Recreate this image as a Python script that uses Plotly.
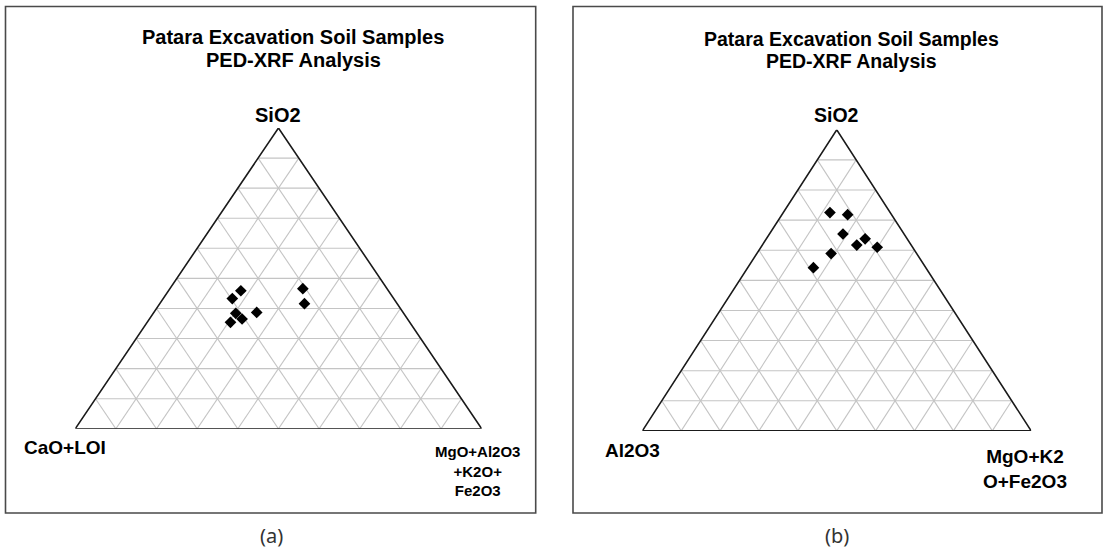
import plotly.graph_objects as go

W, H = 1103, 550

# ---- sample compositions (fractions of the three end-members) ----
# Panel (a): SiO2 / CaO+LOI / MgO+Al2O3+K2O+Fe2O3
a_sio2 = [0.459, 0.433, 0.384, 0.365, 0.354, 0.387, 0.466, 0.416]
a_caoloi = [0.363, 0.397, 0.413, 0.407, 0.441, 0.360, 0.207, 0.228]
a_mafic = [0.178, 0.170, 0.203, 0.228, 0.205, 0.253, 0.327, 0.356]

# Panel (b): SiO2 / Al2O3 / MgO+K2O+Fe2O3
b_sio2 = [0.725, 0.718, 0.654, 0.638, 0.617, 0.610, 0.589, 0.542]
b_al2o3 = [0.155, 0.113, 0.157, 0.108, 0.140, 0.091, 0.220, 0.289]
b_mafic = [0.120, 0.169, 0.189, 0.254, 0.243, 0.299, 0.191, 0.169]

grid_steps = [0.1, 0.2, 0.3, 0.4, 0.5, 0.6, 0.7, 0.8, 0.9]

title_lines = ["Patara Excavation Soil Samples", "PED-XRF Analysis"]
a_labels = {"top": "SiO2", "left": "CaO+LOI", "right": "MgO+Al2O3<br>+K2O+<br>Fe2O3"}
b_labels = {"top": "SiO2", "left": "Al2O3", "right": "MgO+K2<br>O+Fe2O3"}

FONT = "Liberation Sans, Arial, sans-serif"


def tern_xy(top, left, right):
    """Ternary composition -> unit-triangle cartesian coordinates."""
    xs, ys = [], []
    for t, l, r in zip(top, left, right):
        s = t + l + r
        t, r = t / s, r / s
        xs.append(r + t / 2)
        ys.append(t)
    return xs, ys


def grid_xy(steps):
    """Iso-lines for each of the three components."""
    xs, ys = [], []
    for v in steps:
        segs = [
            ((v, 1 - v, 0), (v, 0, 1 - v)),  # top = v
            ((0, 1 - v, v), (1 - v, 0, v)),  # right = v
            ((0, v, 1 - v), (1 - v, v, 0)),  # left = v
        ]
        for p, q in segs:
            x, y = tern_xy([p[0], q[0]], [p[1], q[1]], [p[2], q[2]])
            xs += x + [None]
            ys += y + [None]
    return xs, ys


fig = go.Figure()

panels = [
    dict(top=a_sio2, left=a_caoloi, right=a_mafic, xa="x", ya="y"),
    dict(top=b_sio2, left=b_al2o3, right=b_mafic, xa="x2", ya="y2"),
]

gx, gy = grid_xy(grid_steps)
ox, oy = tern_xy([0, 1, 0, 0], [1, 0, 0, 1], [0, 0, 1, 0])

for p in panels:
    fig.add_trace(go.Scatter(x=gx, y=gy, mode="lines", xaxis=p["xa"], yaxis=p["ya"],
                             line=dict(color="#c4c4c4", width=1.1), hoverinfo="skip",
                             showlegend=False))
    fig.add_trace(go.Scatter(x=ox, y=oy, mode="lines", xaxis=p["xa"], yaxis=p["ya"],
                             line=dict(color="#1a1a1a", width=1.6), hoverinfo="skip",
                             showlegend=False))
    px, py = tern_xy(p["top"], p["left"], p["right"])
    fig.add_trace(go.Scatter(x=px, y=py, mode="markers", xaxis=p["xa"], yaxis=p["ya"],
                             marker=dict(symbol="diamond", size=9, color="black"),
                             cliponaxis=False, showlegend=False))


def fx(px):
    return px / W


def fy(py):
    return 1 - py / H


axis_common = dict(visible=False, range=[0, 1], fixedrange=True)
fig.update_layout(
    width=W, height=H,
    margin=dict(l=0, r=0, t=0, b=0),
    paper_bgcolor="white", plot_bgcolor="white",
    xaxis=dict(domain=[fx(75.2), fx(481.7)], anchor="y", **axis_common),
    yaxis=dict(domain=[fy(428.8), fy(128)], anchor="x", **axis_common),
    xaxis2=dict(domain=[fx(642.3), fx(1031.2)], anchor="y2", **axis_common),
    yaxis2=dict(domain=[fy(430.9), fy(129.8)], anchor="x2", **axis_common),
)

# panel frames
for x0, x1 in [(5.5, 535.7), (573, 1102)]:
    fig.add_shape(type="rect", xref="paper", yref="paper",
                  x0=fx(x0), x1=fx(x1), y0=fy(513), y1=fy(6.5),
                  line=dict(color="#4a4a4a", width=1.6))


def label(text, x, y, size, bold=True, color="black", family=FONT):
    fig.add_annotation(text=f"<b>{text}</b>" if bold else text,
                       x=fx(x), y=fy(y), xref="paper", yref="paper",
                       xanchor="center", yanchor="middle", showarrow=False,
                       font=dict(family=family, size=size, color=color))


# panel (a) texts
label(title_lines[0], 293, 37, 20)
label(title_lines[1], 293, 60, 20)
label(a_labels["top"], 277.6, 115, 20)
label(a_labels["left"], 64.7, 447, 19)
fig.add_annotation(text="<b>" + a_labels["right"] + "</b>", x=fx(477.6), y=fy(471),
                   xref="paper", yref="paper", xanchor="center", yanchor="middle",
                   showarrow=False, align="center",
                   font=dict(family=FONT, size=15, color="black"))
label("(a)", 271.7, 535, 20, bold=False, color="#333333", family="Noto Sans, sans-serif")

# panel (b) texts
label(title_lines[0], 851, 39, 19.5)
label(title_lines[1], 851, 61, 19.5)
label(b_labels["top"], 836.6, 115, 19.5)
label(b_labels["left"], 632.6, 450, 19)
fig.add_annotation(text="<b>" + b_labels["right"] + "</b>", x=fx(1024.7), y=fy(469),
                   xref="paper", yref="paper", xanchor="center", yanchor="middle",
                   showarrow=False, align="center",
                   font=dict(family=FONT, size=19, color="black"))
label("(b)", 837, 535, 20, bold=False, color="#333333", family="Noto Sans, sans-serif")

fig.write_html("out.html")
